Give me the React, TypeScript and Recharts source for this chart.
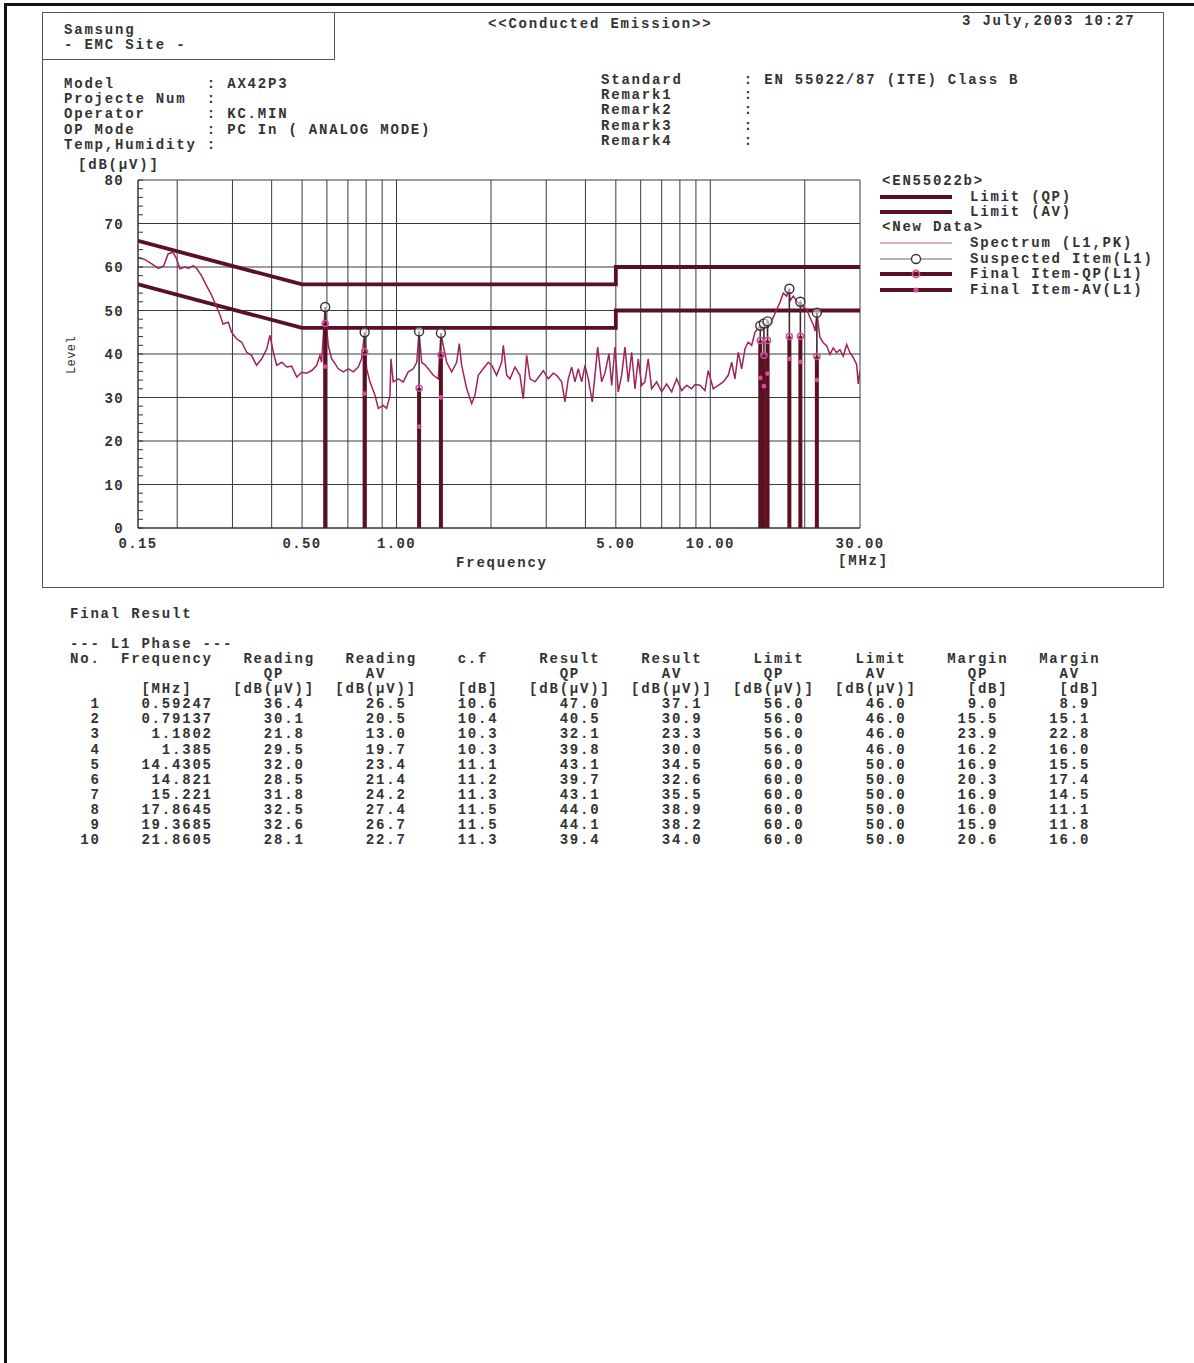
import React from 'react'
import { ComposedChart, Line, Scatter, XAxis, YAxis, CartesianGrid } from 'recharts'

// spectrum trace (L1, PK): [MHz, dB(uV)]
const spectrum: [number, number][] = [
  [0.15, 62.2], [0.158, 61.7], [0.166, 60.7], [0.174, 59.7], [0.181, 60.2], [0.187, 63.0], [0.194, 63.4],
  [0.199, 61.9], [0.204, 59.6], [0.212, 60.0], [0.217, 59.7], [0.225, 60.3], [0.231, 59.6], [0.239, 58.0],
  [0.248, 55.7], [0.258, 53.4], [0.267, 50.8], [0.274, 48.9], [0.28, 46.9], [0.291, 47.3], [0.298, 45.0],
  [0.309, 43.5], [0.321, 42.7], [0.333, 40.4], [0.345, 39.7], [0.358, 37.4], [0.372, 38.9], [0.386, 41.2],
  [0.395, 44.3], [0.405, 40.4], [0.415, 37.4], [0.431, 38.1], [0.447, 37.0], [0.463, 37.2], [0.481, 34.7],
  [0.499, 35.8], [0.517, 35.6], [0.537, 36.2], [0.557, 37.4], [0.57, 39.7], [0.577, 38.1], [0.592, 50.5],
  [0.606, 42.0], [0.621, 38.9], [0.637, 37.8], [0.652, 36.6], [0.677, 35.9], [0.702, 36.6], [0.728, 35.9],
  [0.755, 37.0], [0.774, 38.9], [0.791, 44.8], [0.803, 36.6], [0.823, 33.6], [0.854, 30.5], [0.875, 27.5],
  [0.907, 28.2], [0.93, 27.5], [0.953, 30.5], [0.96, 38.9], [0.976, 33.6], [1.013, 34.3], [1.051, 33.6],
  [1.09, 35.9], [1.131, 36.6], [1.16, 38.1], [1.18, 45.0], [1.203, 38.1], [1.232, 37.5], [1.262, 36.6],
  [1.31, 35.1], [1.359, 34.3], [1.385, 44.6], [1.445, 38.1], [1.499, 35.9], [1.555, 38.1], [1.585, 42.4],
  [1.613, 37.4], [1.674, 32.0], [1.736, 28.6], [1.778, 30.5], [1.822, 35.1], [1.89, 36.6], [1.961, 38.1],
  [2.011, 37.4], [2.085, 35.1], [2.163, 38.1], [2.189, 42.0], [2.245, 35.1], [2.3, 34.3], [2.385, 37.0],
  [2.474, 35.1], [2.535, 29.7], [2.599, 39.7], [2.663, 34.3], [2.763, 33.6], [2.866, 35.1], [2.936, 36.2],
  [3.045, 34.3], [3.158, 35.6], [3.238, 35.1], [3.36, 33.6], [3.442, 29.0], [3.527, 34.3], [3.616, 37.0],
  [3.705, 33.6], [3.795, 36.6], [3.892, 33.6], [3.987, 37.4], [4.084, 34.3], [4.206, 29.0], [4.29, 35.1],
  [4.376, 41.6], [4.506, 33.6], [4.616, 35.6], [4.754, 40.1], [4.85, 32.8], [4.968, 41.6], [5.09, 31.3],
  [5.218, 35.1], [5.346, 41.6], [5.478, 33.6], [5.616, 40.4], [5.754, 32.0], [5.895, 38.9], [6.042, 32.8],
  [6.191, 33.6], [6.342, 38.9], [6.502, 32.0], [6.746, 33.6], [6.998, 31.3], [7.259, 33.1], [7.531, 31.3],
  [7.812, 34.3], [8.104, 31.6], [8.408, 32.8], [8.721, 32.0], [8.935, 33.0], [9.271, 32.8], [9.616, 31.6],
  [9.851, 36.2], [10.22, 32.0], [10.6, 32.8], [11.0, 33.6], [11.41, 35.1], [11.7, 38.1], [11.98, 34.3],
  [12.28, 40.4], [12.59, 36.6], [12.9, 41.2], [13.21, 42.7], [13.55, 42.0], [13.88, 45.0], [14.22, 46.0],
  [14.43, 46.5], [14.58, 45.8], [14.82, 47.0], [14.94, 46.8], [15.22, 47.5], [15.3, 46.2], [15.87, 48.4],
  [16.28, 50.3], [16.67, 51.8], [17.08, 54.0], [17.51, 53.3], [17.86, 55.0], [17.94, 52.2], [18.38, 53.3],
  [18.84, 52.2], [19.31, 51.4], [19.37, 52.0], [19.78, 50.7], [20.28, 50.3], [20.78, 48.4], [21.29, 46.8],
  [21.6, 45.3], [21.86, 49.5], [22.36, 43.8], [22.91, 42.6], [23.49, 41.9], [24.06, 39.9], [24.66, 41.4],
  [25.27, 40.3], [25.89, 41.0], [26.53, 39.5], [27.2, 42.2], [27.87, 40.3], [28.55, 39.2], [29.27, 37.6],
  [29.61, 33.1], [30.0, 36.1],
]

// EN 55022 class B limits
const limitQPLine: [number, number][] = [[0.15, 66], [0.5, 56], [5, 56], [5, 60], [30, 60]]
const limitAVLine: [number, number][] = [[0.15, 56], [0.5, 46], [5, 46], [5, 50], [30, 50]]

// final result table
const itemNo = ['1', '2', '3', '4', '5', '6', '7', '8', '9', '10']
const itemFreq = ['0.59247', '0.79137', '1.1802', '1.385', '14.4305', '14.821', '15.221', '17.8645', '19.3685', '21.8605']
const readingQP = [36.4, 30.1, 21.8, 29.5, 32.0, 28.5, 31.8, 32.5, 32.6, 28.1]
const readingAV = [26.5, 20.5, 13.0, 19.7, 23.4, 21.4, 24.2, 27.4, 26.7, 22.7]
const corrFactor = [10.6, 10.4, 10.3, 10.3, 11.1, 11.2, 11.3, 11.5, 11.5, 11.3]
const resultQP = [47.0, 40.5, 32.1, 39.8, 43.1, 39.7, 43.1, 44.0, 44.1, 39.4]
const resultAV = [37.1, 30.9, 23.3, 30.0, 34.5, 32.6, 35.5, 38.9, 38.2, 34.0]
const limitQP = [56.0, 56.0, 56.0, 56.0, 60.0, 60.0, 60.0, 60.0, 60.0, 60.0]
const limitAV = [46.0, 46.0, 46.0, 46.0, 50.0, 50.0, 50.0, 50.0, 50.0, 50.0]
const marginQP = [9.0, 15.5, 23.9, 16.2, 16.9, 20.3, 16.9, 16.0, 15.9, 20.6]
const marginAV = [8.9, 15.1, 22.8, 16.0, 15.5, 17.4, 14.5, 11.1, 11.8, 16.0]
// suspected item peaks (circles)
const suspectedLevel = [50.8, 45.0, 45.2, 44.8, 46.5, 47.0, 47.5, 55.0, 52.0, 49.5]

const freqGrid = [0.15, 0.2, 0.3, 0.4, 0.5, 0.6, 0.7, 0.8, 0.9, 1, 2, 3, 4, 5, 6, 7, 8, 9, 10, 20, 30]
const freqLabels = [0.15, 0.5, 1, 5, 10, 30]
const levelMajor = [0, 10, 20, 30, 40, 50, 60, 70, 80]
const levelTicks = [0, 2, 4, 6, 8, 10, 12, 14, 16, 18, 20, 22, 24, 26, 28, 30, 32, 34, 36, 38, 40, 42, 44, 46, 48, 50, 52, 54, 56, 58, 60, 62, 64, 66, 68, 70, 72, 74, 76, 78, 80]

const FONT = "'Liberation Mono', 'DejaVu Sans Mono', monospace"
const INK = '#333'
const MAROON = '#5a1020'
const PINK = '#d24f9a'
const TRACE = '#a02459'

const toPts = (arr: [number, number][]) => arr.map(([f, v]) => ({ f, v }))
const itemF = itemFreq.map(Number)

const FreqTick = (p: any) => {
  const v = p.payload.value
  if (!freqLabels.includes(v)) return <g />
  return (
    <text x={p.x} y={p.y} dy="0.71em" textAnchor="middle" fill={INK} fontFamily={FONT} fontWeight="bold" fontSize={14} letterSpacing={1.4}>
      {v.toFixed(2)}
    </text>
  )
}

const LevelTick = (p: any) => {
  const v = p.payload.value
  const edge = p.x + 14
  return (
    <g>
      <line x1={edge} x2={edge + 5} y1={p.y} y2={p.y} stroke={INK} strokeWidth={1} />
      {v % 10 === 0 && (
        <text x={p.x} y={p.y} dy="0.36em" textAnchor="end" fill={INK} fontFamily={FONT} fontWeight="bold" fontSize={14} letterSpacing={1.4}>
          {v}
        </text>
      )}
    </g>
  )
}

const SuspectMark = (p: any) => <circle cx={p.cx} cy={p.cy} r={4.5} fill="#fff" fillOpacity={0.5} stroke="#333" strokeWidth={1.4} />
const QPMark = (p: any) => <circle cx={p.cx} cy={p.cy} r={3} fill="none" stroke={PINK} strokeWidth={1.5} />
const AVMark = (p: any) => <circle cx={p.cx} cy={p.cy} r={2.4} fill={PINK} />

function place(parts: [number, string][]) {
  let s = ''
  for (const [i, t] of parts) s = s.padEnd(i) + t
  return s
}

const tableHead = [
  place([[0, 'No.'], [5, 'Frequency'], [17, 'Reading'], [27, 'Reading'], [38, 'c.f'], [46, 'Result'], [56, 'Result'], [67, 'Limit'], [77, 'Limit'], [86, 'Margin'], [95, 'Margin']]),
  place([[19, 'QP'], [29, 'AV'], [48, 'QP'], [58, 'AV'], [68, 'QP'], [78, 'AV'], [88, 'QP'], [97, 'AV']]),
  place([[7, '[MHz]'], [16, '[dB(μV)]'], [26, '[dB(μV)]'], [38, '[dB]'], [45, '[dB(μV)]'], [55, '[dB(μV)]'], [65, '[dB(μV)]'], [75, '[dB(μV)]'], [88, '[dB]'], [97, '[dB]']]),
]
const tableRows = itemNo.map((n, i) =>
  n.padStart(3) +
  itemFreq[i].padStart(11) +
  readingQP[i].toFixed(1).padStart(9) +
  readingAV[i].toFixed(1).padStart(10) +
  corrFactor[i].toFixed(1).padStart(9) +
  resultQP[i].toFixed(1).padStart(10) +
  resultAV[i].toFixed(1).padStart(10) +
  limitQP[i].toFixed(1).padStart(10) +
  limitAV[i].toFixed(1).padStart(10) +
  marginQP[i].toFixed(1).padStart(9) +
  marginAV[i].toFixed(1).padStart(9)
)

const txt = (left: number, top: number, s: string, extra: React.CSSProperties = {}) => (
  <div style={{ position: 'absolute', left, top, lineHeight: '15px', whiteSpace: 'pre', ...extra }}>{s}</div>
)

export default function App() {
  return (
    <div style={{ position: 'absolute', left: 0, top: 0, width: 1194, height: 1363, background: '#fff', fontFamily: FONT, fontWeight: 'bold', fontSize: 14, letterSpacing: 1.8, color: INK, overflow: 'hidden' }}>
      {/* scan border */}
      <div style={{ position: 'absolute', left: 4, top: 3, width: 1190, height: 1360, borderTop: '3px solid #111', borderLeft: '3px solid #111' }} />
      {/* report frame */}
      <div style={{ position: 'absolute', left: 42, top: 12, width: 1120, height: 574, border: '1.5px solid #555' }} />
      <div style={{ position: 'absolute', left: 42, top: 12, width: 291, height: 46, border: '1.5px solid #555' }} />

      {txt(64, 23, 'Samsung')}
      {txt(64, 38, '- EMC Site -')}
      {txt(488, 17, '<<Conducted Emission>>')}
      {txt(962, 14, '3 July,2003 10:27')}
      <pre style={{ position: 'absolute', left: 64, top: 77, margin: 0, font: 'inherit', lineHeight: '15.2px' }}>
        {['Model         : AX42P3', 'Projecte Num  :', 'Operator      : KC.MIN', 'OP Mode       : PC In ( ANALOG MODE)', 'Temp,Humidity :'].join('\n')}
      </pre>
      <pre style={{ position: 'absolute', left: 601, top: 73, margin: 0, font: 'inherit', lineHeight: '15.2px' }}>
        {['Standard      : EN 55022/87 (ITE) Class B', 'Remark1       :', 'Remark2       :', 'Remark3       :', 'Remark4       :'].join('\n')}
      </pre>

      {txt(78, 158, '[dB(μV)]')}
      <div style={{ position: 'absolute', left: 52, top: 348, width: 40, lineHeight: '14px', fontSize: 12, fontWeight: 'normal', letterSpacing: 0.4, textAlign: 'center', transform: 'rotate(-90deg)' }}>Level</div>
      {txt(456, 556, 'Frequency')}
      {txt(838, 554, '[MHz]')}

      <div style={{ position: 'absolute', left: 60, top: 160 }}>
        <ComposedChart width={830} height={410} margin={{ top: 20, right: 30, bottom: 12, left: 38 }}>
          <CartesianGrid stroke="#3a3a3a" strokeWidth={1} horizontalValues={levelMajor} verticalValues={freqGrid} />
          <XAxis type="number" dataKey="f" scale="log" domain={[0.15, 30]} ticks={freqGrid} interval={0} allowDataOverflow
            height={30} axisLine={{ stroke: '#333' }} tickLine={false} tickMargin={4} tick={<FreqTick />} />
          <YAxis type="number" dataKey="v" domain={[0, 80]} ticks={levelTicks} interval={0} allowDataOverflow width={40}
            axisLine={{ stroke: '#333' }} tickLine={false} tickSize={6} tickMargin={8} tick={<LevelTick />} />
          <Line data={toPts(limitQPLine)} dataKey="v" type="linear" stroke={MAROON} strokeWidth={3.8} dot={false} isAnimationActive={false} />
          <Line data={toPts(limitAVLine)} dataKey="v" type="linear" stroke={MAROON} strokeWidth={3.8} dot={false} isAnimationActive={false} />
          <Line data={toPts(spectrum)} dataKey="v" type="linear" stroke={TRACE} strokeWidth={1.5} dot={false} isAnimationActive={false} />
          {itemF.map((f, i) => (
            <Line key={'s' + i} data={[{ f, v: 0 }, { f, v: suspectedLevel[i] }]} dataKey="v" stroke="#3c2a2e" strokeWidth={1.6} dot={false} isAnimationActive={false} />
          ))}
          {itemF.map((f, i) => (
            <Line key={'q' + i} data={[{ f, v: 0 }, { f, v: resultQP[i] }]} dataKey="v" stroke={MAROON} strokeWidth={4} dot={false} isAnimationActive={false} />
          ))}
          <Scatter data={itemF.map((f, i) => ({ f, v: resultAV[i] }))} dataKey="v" shape={AVMark} isAnimationActive={false} />
          <Scatter data={itemF.map((f, i) => ({ f, v: resultQP[i] }))} dataKey="v" shape={QPMark} isAnimationActive={false} />
          <Scatter data={itemF.map((f, i) => ({ f, v: suspectedLevel[i] }))} dataKey="v" shape={SuspectMark} isAnimationActive={false} />
        </ComposedChart>
      </div>

      {/* legend */}
      <svg style={{ position: 'absolute', left: 870, top: 170 }} width={300} height={130} fontFamily={FONT} fontWeight="bold" fontSize={14} letterSpacing={1.8} fill={INK}>
        <text x={12} y={11} dominantBaseline="central">{'<EN55022b>'}</text>
        <line x1={10} x2={82} y1={27} y2={27} stroke={MAROON} strokeWidth={3.8} />
        <text x={100} y={27} dominantBaseline="central">Limit (QP)</text>
        <line x1={10} x2={82} y1={42} y2={42} stroke={MAROON} strokeWidth={3.8} />
        <text x={100} y={42} dominantBaseline="central">Limit (AV)</text>
        <text x={12} y={57} dominantBaseline="central">{'<New Data>'}</text>
        <line x1={10} x2={82} y1={73} y2={73} stroke={PINK} strokeWidth={1.2} />
        <text x={100} y={73} dominantBaseline="central">Spectrum (L1,PK)</text>
        <line x1={10} x2={82} y1={89} y2={89} stroke="#666" strokeWidth={1.2} />
        <circle cx={46} cy={89} r={4.5} fill="#fff" stroke="#333" strokeWidth={1.3} />
        <text x={100} y={89} dominantBaseline="central">Suspected Item(L1)</text>
        <line x1={10} x2={82} y1={104} y2={104} stroke={MAROON} strokeWidth={3.8} />
        <circle cx={46} cy={104} r={3.5} fill="none" stroke={PINK} strokeWidth={1.8} />
        <text x={100} y={104} dominantBaseline="central">Final Item-QP(L1)</text>
        <line x1={10} x2={82} y1={120} y2={120} stroke={MAROON} strokeWidth={3.8} />
        <circle cx={46} cy={120} r={2.6} fill={PINK} />
        <text x={100} y={120} dominantBaseline="central">Final Item-AV(L1)</text>
      </svg>

      {txt(70, 607, 'Final Result')}
      {txt(70, 637, '--- L1 Phase ---')}
      <pre style={{ position: 'absolute', left: 70, top: 652, margin: 0, font: 'inherit', lineHeight: '15.1px' }}>
        {[...tableHead, ...tableRows].join('\n')}
      </pre>
    </div>
  )
}
